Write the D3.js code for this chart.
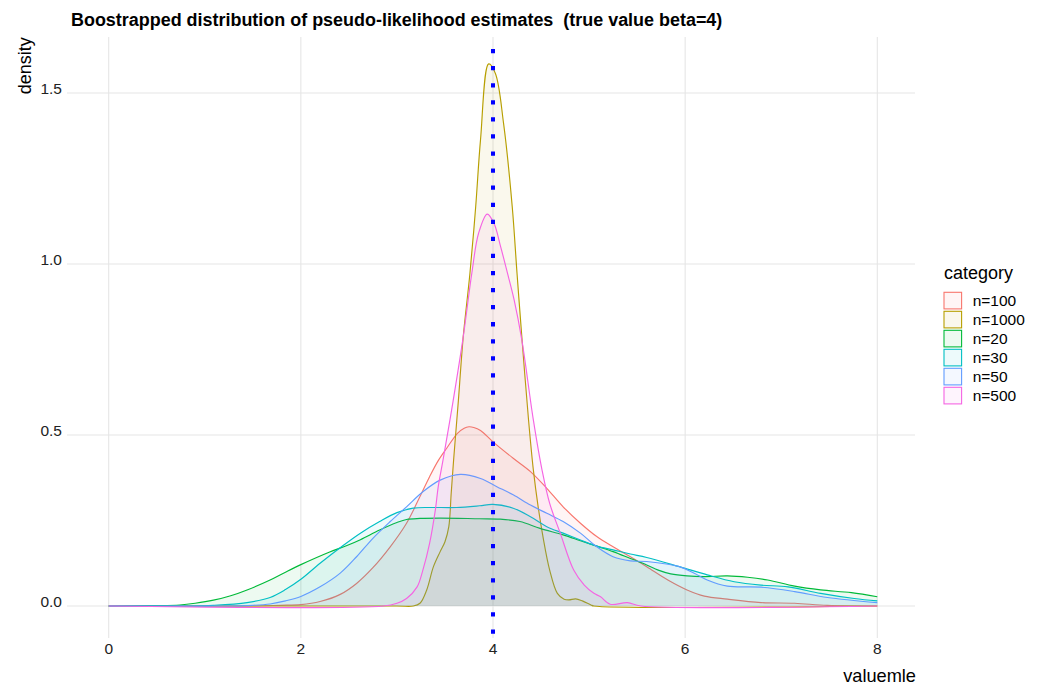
<!DOCTYPE html>
<html>
<head>
<meta charset="utf-8">
<script src="https://cdn.jsdelivr.net/npm/d3@7"></script>
<style>
html,body{margin:0;padding:0;background:#fff;}
svg{display:block;font-family:"Liberation Sans",Arial,Helvetica,sans-serif;}
text{white-space:pre;}
</style>
</head>
<body>
<svg id="chart" width="1055" height="698"></svg>
<script>
// ---- data ----
const categories = ["n=100","n=1000","n=20","n=30","n=50","n=500"];
const colors = ["#F8766D","#B79F00","#00BA38","#00BFC4","#619CFF","#F564E3"];

const x_n100 = [0,1.5,1.78,2.0,2.2,2.41,2.58,2.75,2.93,3.10,3.24,3.34,3.43,3.52,3.63,3.70,3.75,3.80,3.87,4.0,4.21,4.39,4.56,4.73,4.91,5.08,5.25,5.43,5.60,5.82,6.02,6.2,6.44,6.79,7.14,7.48,8];
const y_n100 = [0,0,0.002,0.004,0.013,0.034,0.066,0.112,0.173,0.242,0.32,0.378,0.425,0.462,0.505,0.52,0.524,0.522,0.513,0.48,0.432,0.393,0.344,0.29,0.242,0.203,0.173,0.144,0.115,0.076,0.047,0.029,0.02,0.01,0.008,0.002,0];

const x_n1000 = [0,3.0,3.17,3.24,3.31,3.38,3.45,3.50,3.54,3.565,3.59,3.615,3.64,3.69,3.76,3.82,3.87,3.955,4.025,4.11,4.2,4.25,4.30,4.37,4.42,4.47,4.52,4.59,4.67,4.74,4.79,4.86,4.93,5.02,5.05,8];
const y_n1000 = [0,0,0,0.008,0.047,0.115,0.159,0.188,0.232,0.33,0.427,0.515,0.602,0.787,0.973,1.168,1.363,1.585,1.557,1.411,1.168,0.973,0.787,0.544,0.398,0.29,0.203,0.105,0.037,0.02,0.018,0.021,0.015,0.003,0,0];

const x_n20 = [0,0.5,0.74,0.9,1.09,1.27,1.44,1.68,1.84,2.0,2.30,2.48,2.62,2.82,3.0,3.10,3.24,3.45,3.86,4.07,4.28,4.49,4.73,4.91,5.08,5.25,5.43,5.60,5.72,5.85,6.02,6.2,6.44,6.65,6.86,7.14,7.41,7.73,8.0];
const y_n20 = [0,0.001,0.003,0.008,0.017,0.03,0.047,0.076,0.099,0.121,0.158,0.177,0.194,0.222,0.244,0.253,0.256,0.257,0.255,0.254,0.247,0.227,0.208,0.191,0.175,0.159,0.139,0.12,0.105,0.094,0.088,0.086,0.088,0.084,0.076,0.058,0.047,0.039,0.027];

const x_n30 = [0,0.8,1.09,1.44,1.68,1.84,2.0,2.20,2.44,2.62,2.82,3.0,3.17,3.34,3.62,3.86,4.0,4.21,4.39,4.56,4.73,4.91,5.08,5.25,5.43,5.60,5.94,6.23,6.51,6.79,7.07,7.41,7.76,8.0];
const y_n30 = [0,0,0.002,0.01,0.025,0.048,0.078,0.125,0.177,0.213,0.247,0.273,0.286,0.288,0.288,0.293,0.297,0.286,0.261,0.232,0.213,0.193,0.175,0.164,0.152,0.142,0.115,0.091,0.071,0.061,0.056,0.037,0.022,0.015];

const x_n50 = [0,1.2,1.5,1.68,1.84,2.0,2.20,2.41,2.58,2.75,2.93,3.10,3.27,3.45,3.66,3.87,4.04,4.21,4.39,4.56,4.73,4.91,5.08,5.25,5.43,5.60,5.94,6.1,6.23,6.44,6.79,7.14,7.48,8.0];
const y_n50 = [0,0,0.002,0.006,0.015,0.028,0.056,0.096,0.144,0.198,0.247,0.29,0.334,0.368,0.385,0.373,0.349,0.325,0.295,0.271,0.247,0.213,0.173,0.144,0.132,0.13,0.115,0.095,0.076,0.058,0.055,0.042,0.025,0.01];

const x_n500 = [0,2.86,3.0,3.10,3.21,3.27,3.34,3.40,3.43,3.48,3.585,3.69,3.78,3.85,3.94,4.01,4.08,4.15,4.22,4.30,4.42,4.51,4.59,4.70,4.84,4.95,5.05,5.12,5.22,5.40,5.54,8];
const y_n500 = [0,0,0.008,0.022,0.056,0.105,0.183,0.281,0.349,0.427,0.6,0.787,0.974,1.09,1.146,1.119,1.05,0.974,0.895,0.778,0.544,0.398,0.3,0.213,0.105,0.061,0.037,0.027,0.005,0.01,0,0];

const seriesX = [x_n100,x_n1000,x_n20,x_n30,x_n50,x_n500];
const seriesY = [y_n100,y_n1000,y_n20,y_n30,y_n50,y_n500];

const xTicks = [0,2,4,6,8];
const yTicks = [0,0.5,1.0,1.5];
const trueBeta = 4;
const titleText = "Boostrapped distribution of pseudo-likelihood estimates  (true value beta=4)";

// ---- layout ----
const svg = d3.select("#chart");
const panel = {left:67, right:915, top:37, bottom:638};
const x = d3.scaleLinear().domain([0,8]).range([108.7,877.3]);
const y = d3.scaleLinear().domain([0,1.5]).range([606,93]);

// grid
const grid = svg.append("g");
grid.selectAll("line.v").data(xTicks).join("line")
  .attr("x1",d=>x(d)).attr("x2",d=>x(d))
  .attr("y1",panel.top).attr("y2",panel.bottom)
  .attr("stroke","#E5E5E5").attr("stroke-width",1.1);
grid.selectAll("line.h").data(yTicks).join("line")
  .attr("y1",d=>y(d)).attr("y2",d=>y(d))
  .attr("x1",panel.left).attr("x2",panel.right)
  .attr("stroke","#E5E5E5").attr("stroke-width",1.1);

// densities
const curve = d3.curveCatmullRom.alpha(0.5);
const area = d3.area().x(d=>x(d[0])).y0(y(0)).y1(d=>Math.min(y(0),y(d[1]))).curve(curve);
const line = d3.line().x(d=>x(d[0])).y(d=>y(d[1])).curve(curve);
const alpha = 0.07;
categories.forEach((c,i)=>{
  const pts = seriesX[i].map((v,j)=>[v,seriesY[i][j]]);
  const g = svg.append("g");
  g.append("path").datum(pts).attr("d",area).attr("fill",colors[i]).attr("fill-opacity",alpha);
  g.append("path").datum(pts).attr("d",line).attr("fill","none").attr("stroke",colors[i]).attr("stroke-width",1.15);
});

// vertical dotted line at true value
svg.append("line")
  .attr("x1",x(trueBeta)).attr("x2",x(trueBeta))
  .attr("y1",panel.top).attr("y2",panel.bottom)
  .attr("stroke","blue").attr("stroke-width",4)
  .attr("stroke-dasharray","4.27 12.8").attr("stroke-dashoffset",5.07);

// axes text
const tickColor = "#222";
svg.append("g").selectAll("text").data(xTicks).join("text")
  .attr("x",d=>x(d)).attr("y",654).attr("text-anchor","middle")
  .attr("font-size",15.5).attr("fill",tickColor).text(d=>d3.format("d")(d));
svg.append("g").selectAll("text").data(yTicks).join("text")
  .attr("x",62).attr("y",d=>y(d)+0.5).attr("text-anchor","end")
  .attr("font-size",15.5).attr("fill",tickColor).text(d=>d3.format(".1f")(d));

svg.append("text").attr("x",916).attr("y",681.5).attr("text-anchor","end")
  .attr("font-size",18.2).attr("fill","#000").text("valuemle");
svg.append("text").attr("transform","translate(31,37.3) rotate(-90)").attr("text-anchor","end")
  .attr("font-size",18).attr("fill","#000").text("density");

// title
const t = svg.append("text").attr("x",71).attr("y",26).attr("font-weight","bold")
  .attr("font-size",17).attr("fill","#000").text(titleText);
const w = t.node().getComputedTextLength();
t.attr("font-size",17*652/w);

// legend
const lg = svg.append("g");
lg.append("text").attr("x",944).attr("y",279.3).attr("font-size",18).attr("fill","#000").text("category");
categories.forEach((c,i)=>{
  const yy = 291.7 + 19*i;
  lg.append("rect").attr("x",944).attr("y",yy+0.6).attr("width",17.6).attr("height",16.6)
    .attr("fill",colors[i]).attr("fill-opacity",alpha)
    .attr("stroke",colors[i]).attr("stroke-width",1.1);
  lg.append("text").attr("x",972.7).attr("y",yy+14.3).attr("font-size",15.5).attr("fill","#000").text(c);
});
</script>
</body>
</html>
